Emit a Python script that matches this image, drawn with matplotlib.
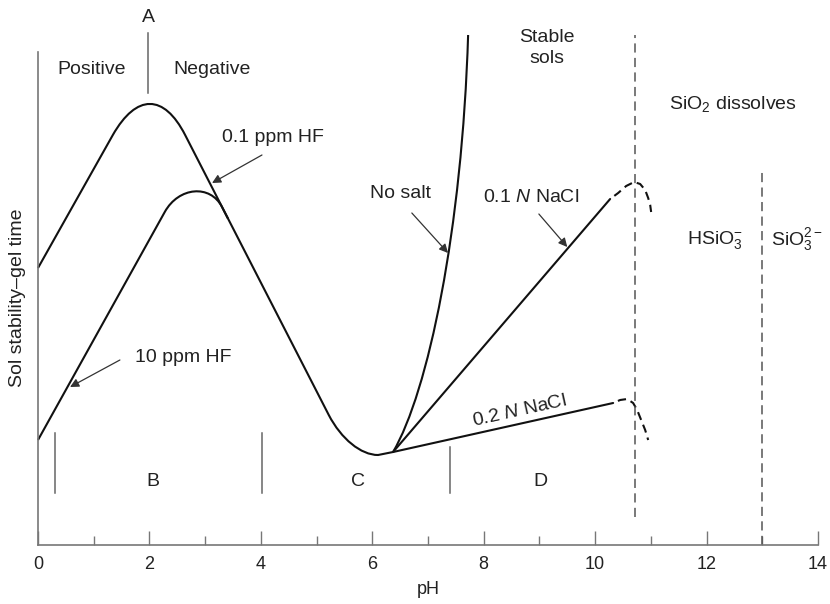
import matplotlib
matplotlib.use('Agg')
import matplotlib.pyplot as plt
from matplotlib.path import Path
from matplotlib.patches import PathPatch

plt.rcParams['font.family'] = ['Liberation Sans', 'DejaVu Sans']
plt.rcParams['mathtext.fontset'] = 'custom'
plt.rcParams['mathtext.rm'] = 'Liberation Sans'
plt.rcParams['mathtext.it'] = 'Liberation Sans:italic'

# ---- curves (pH, relative gel time) ----
# 0.1 ppm HF: M=move, L=line, C=cubic bezier point
hf01_ph = [0.00, 1.343, 1.767, 2.260, 2.641, 5.219, 5.443, 5.797, 6.104, 6.373]
hf01_y = [55.4, 82.0, 90.28, 90.28, 82.0, 26.0, 21.2, 18.0, 18.0, 18.6]
hf01_codes = 'MLCCCLCCCL'

# 10 ppm HF
hf10_ph = [0.00, 2.275, 2.526, 3.092, 3.303, 3.411]
hf10_y = [21.0, 66.6, 71.64, 72.2, 67.6, 65.26]
hf10_codes = 'MLCCCL'

# no salt
nosalt_ph = [6.373, 7.002, 7.612, 7.720]
nosalt_y = [18.6, 30.6, 63.0, 102.0]
nosalt_codes = 'MCCC'

# 0.1 N NaCl
nacl01_ph = [6.373, 10.269]
nacl01_y = [18.6, 69.2]
nacl01_end_ph = [10.269, 10.413, 10.557, 10.700, 10.808, 10.898, 10.952, 10.988, 11.005]
nacl01_end_y = [69.2, 70.4, 71.8, 72.6, 72.2, 71.0, 69.4, 68.0, 66.6]

# 0.2 N NaCl
nacl02_ph = [6.373, 10.323]
nacl02_y = [18.6, 28.4]
nacl02_end_ph = [10.323, 10.449, 10.575, 10.682, 10.754, 10.826, 10.898, 10.952]
nacl02_end_y = [28.4, 29.0, 29.2, 28.4, 27.0, 25.0, 23.0, 21.0]

# region boundaries
zone_ph = [0.305, 4.02, 7.40]
zone_top = [22.4, 22.4, 19.6]
zone_names = ['B', 'C', 'D']
zone_name_ph = [2.06, 5.75, 9.01]
pka_ph = [10.72, 13.0]
pka_top = [102.0, 75.4]
pka_bottom = [5.6, 0.0]

xticks_major = [0, 2, 4, 6, 8, 10, 12, 14]
xticks_minor = [1, 3, 5, 7, 9, 11, 13]

codemap = {'M': Path.MOVETO, 'L': Path.LINETO, 'C': Path.CURVE4}

fig = plt.figure(figsize=(8.30, 6.04), dpi=100)
ax = fig.add_axes([38 / 830, 59 / 604, 780 / 830, 540 / 604])
ax.set_xlim(0, 14)
ax.set_ylim(0, 108)

curve_kw = dict(color='#111111', lw=1.5, solid_capstyle='round')
for px, py, cd in [(hf01_ph, hf01_y, hf01_codes), (hf10_ph, hf10_y, hf10_codes),
                   (nosalt_ph, nosalt_y, nosalt_codes)]:
    path = Path(list(zip(px, py)), [codemap[c] for c in cd])
    ax.add_patch(PathPatch(path, fill=False, edgecolor='#111111', lw=1.5, clip_on=False))

ax.plot(nacl01_ph, nacl01_y, **curve_kw)
ax.plot(nacl02_ph, nacl02_y, **curve_kw)
ax.plot(nacl01_end_ph, nacl01_end_y, color='#111111', lw=1.5, linestyle=(4, (4, 2.5)))
ax.plot(nacl02_end_ph, nacl02_end_y, color='#111111', lw=1.5, linestyle=(4, (4, 2.5)))

# vertical markers
gray = '#666666'
ax.plot([1.975, 1.975], [90.4, 102.4], color=gray, lw=1.1, clip_on=False)
for p, t in zip(zone_ph, zone_top):
    ax.plot([p, p], [10.4, t], color=gray, lw=1.1)
for p, t, b in zip(pka_ph, pka_top, pka_bottom):
    ax.plot([p, p], [b, t], color='#555555', lw=1.1, linestyle=(0, (6, 3.5)))

# spines / ticks
for s in ['top', 'right']:
    ax.spines[s].set_visible(False)
ax.spines['left'].set_bounds(0, 98.6)
ax.spines['left'].set_color('#777777')
ax.spines['bottom'].set_color('#777777')
ax.spines['left'].set_linewidth(1.2)
ax.spines['bottom'].set_linewidth(1.2)
ax.set_yticks([])
ax.set_xticks(xticks_major)
ax.set_xticks(xticks_minor, minor=True)
ax.tick_params(axis='x', which='major', direction='in', length=10, width=1.0,
               color='#777777', labelsize=13, pad=8, labelcolor='#222222')
ax.tick_params(axis='x', which='minor', direction='in', length=6.5, width=1.0,
               color='#777777')
ax.set_xlabel('pH', fontsize=13, color='#222222', labelpad=6)
fig.text(17 / 830, 1 - 298 / 604, 'Sol stability\u2013gel time', rotation=90,
         fontsize=14, color='#222222', ha='center', va='center')

tk = dict(fontsize=14, color='#222222', ha='center', va='center')
ax.text(1.975, 105.4, 'A', **tk)
ax.text(0.97, 95.0, 'Positive', **tk)
ax.text(3.12, 95.0, 'Negative', **tk)
ax.text(9.14, 99.4, 'Stable\nsols', linespacing=1.25, **tk)
ax.text(12.48, 88.2, 'SiO$_2$ dissolves', **tk)
ax.text(12.15, 61.0, 'HSiO$_3^{-}$', **tk)
ax.text(13.63, 61.0, 'SiO$_3^{2-}$', **tk)
for n, p in zip(zone_names, zone_name_ph):
    ax.text(p, 12.6, n, **tk)
ax.text(8.65, 26.8, '0.2 $\\mathit{N}$ NaCl', rotation=12.6, rotation_mode='anchor', **tk)

arr = dict(arrowstyle='-|>', color='#333333', lw=0.9, mutation_scale=13,
           shrinkA=0, shrinkB=0)
ax.annotate('', xy=(3.124, 72.4), xytext=(4.02, 78.0), arrowprops=arr)
ax.text(3.30, 81.6, '0.1 ppm HF', fontsize=14, color='#222222', ha='left', va='center')
ax.annotate('', xy=(0.575, 31.6), xytext=(1.47, 37.0), arrowprops=arr)
ax.text(2.60, 37.4, '10 ppm HF', **tk)
ax.annotate('', xy=(7.36, 58.4), xytext=(6.71, 66.4), arrowprops=arr)
ax.text(6.50, 70.4, 'No salt', **tk)
ax.annotate('', xy=(9.50, 59.6), xytext=(8.99, 66.2), arrowprops=arr)
ax.text(8.85, 69.6, '0.1 $\\mathit{N}$ NaCl', **tk)

fig.savefig('out.png', dpi=100)
